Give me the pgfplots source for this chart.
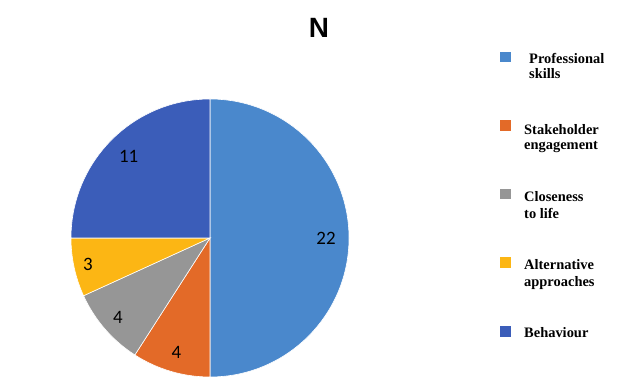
\documentclass[border=0pt]{standalone}
\usepackage{pgfplots}
\usepackage{pgfplotstable}
\pgfplotsset{compat=1.18}
\usepackage{fontspec}
\setmainfont{Liberation Serif}
\newfontfamily\titlefont{Liberation Sans}
\newfontfamily\labelfont{Carlito}

\definecolor{c0}{HTML}{4A88CC}
\definecolor{c1}{HTML}{E36A28}
\definecolor{c2}{HTML}{969696}
\definecolor{c3}{HTML}{FCB614}
\definecolor{c4}{HTML}{3B5DB9}

% value and label distance from centre (bp)
\pgfplotstableread{
idx value labr
0 22 116
1 4 119
2 4 122
3 3 125
4 11 115
}\piedata

\gdef\pietotal{0}
\foreach \i in {0,...,4}{%
  \pgfplotstablegetelem{\i}{value}\of\piedata
  \pgfmathsetmacro\tmp{\pietotal+\pgfplotsretval}%
  \xdef\pietotal{\tmp}%
}
\gdef\piecum{0}
\foreach \i in {0,...,4}{%
  \pgfplotstablegetelem{\i}{value}\of\piedata
  \edef\v{\pgfplotsretval}%
  \pgfplotstablegetelem{\i}{labr}\of\piedata
  \edef\r{\pgfplotsretval}%
  \pgfmathsetmacro\a{90-360*\piecum/\pietotal}%
  \pgfmathsetmacro\b{90-360*(\piecum+\v)/\pietotal}%
  \pgfmathsetmacro\m{(\a+\b)/2}%
  \expandafter\xdef\csname pieA\i\endcsname{\a}%
  \expandafter\xdef\csname pieB\i\endcsname{\b}%
  \expandafter\xdef\csname pieM\i\endcsname{\m}%
  \expandafter\xdef\csname pieR\i\endcsname{\r}%
  \expandafter\xdef\csname pieV\i\endcsname{\v}%
  \pgfmathsetmacro\c{\piecum+\v}%
  \xdef\piecum{\c}%
}

\begin{document}
\begin{tikzpicture}
\begin{axis}[width=623bp, height=387bp, scale only axis,
  xmin=0, xmax=623, ymin=0, ymax=387, hide axis, clip=false]
\path (axis cs:0,0) rectangle (axis cs:623,387);
\pgfplotsinvokeforeach{0,...,4}{
  \fill[c#1, draw=white, line width=0.6pt] (axis cs:210,149) -- ++(\csname pieA#1\endcsname:139bp)
     arc[start angle=\csname pieA#1\endcsname, end angle=\csname pieB#1\endcsname, radius=139bp] -- cycle;
}
\pgfplotsinvokeforeach{0,...,4}{
  \node[font=\labelfont\fontsize{19}{19}\selectfont, text=black] at ([shift={(\csname pieM#1\endcsname:\csname pieR#1\endcsname bp)}]axis cs:210,149) {\csname pieV#1\endcsname};
}
\node[font=\titlefont\bfseries\fontsize{28}{28}\selectfont] at (axis cs:319,359) {N};
% legend
\fill[c0] (axis cs:500,325) rectangle (axis cs:511,335);
\fill[c1] (axis cs:500,256) rectangle (axis cs:511,267);
\fill[c2] (axis cs:500,188) rectangle (axis cs:511,198);
\fill[c3] (axis cs:500,119) rectangle (axis cs:511,130);
\fill[c4] (axis cs:500,50) rectangle (axis cs:511,61);
\tikzset{lg/.style={anchor=base west, inner sep=0pt, font=\bfseries\fontsize{14.5}{16}\selectfont}}
\node[lg] at (axis cs:529,323) {Professional};
\node[lg] at (axis cs:529,308) {skills};
\node[lg] at (axis cs:524,252) {Stakeholder};
\node[lg] at (axis cs:524,237) {engagement};
\node[lg] at (axis cs:524,185) {Closeness};
\node[lg] at (axis cs:524,168) {to life};
\node[lg] at (axis cs:524,117) {Alternative};
\node[lg] at (axis cs:524,100) {approaches};
\node[lg] at (axis cs:524,49) {Behaviour};
\end{axis}
\end{tikzpicture}
\end{document}
